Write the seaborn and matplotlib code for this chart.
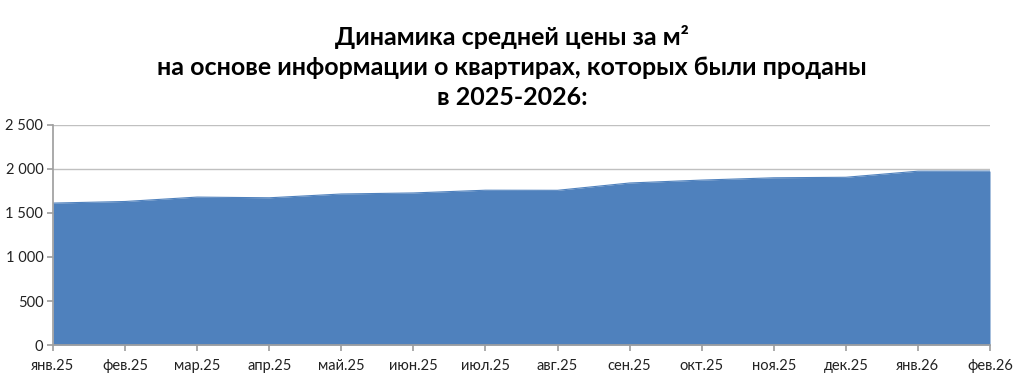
import matplotlib
matplotlib.use("Agg")
import matplotlib.pyplot as plt
import seaborn as sns
import numpy as np
import pandas as pd

months = ["янв.25", "фев.25", "мар.25", "апр.25", "май.25", "июн.25", "июл.25",
          "авг.25", "сен.25", "окт.25", "ноя.25", "дек.25", "янв.26", "фев.26"]
prices = [1612, 1630, 1680, 1672, 1715, 1727, 1758, 1757, 1840, 1873, 1899, 1905, 1974, 1975]
y_ticks = [0, 500, 1000, 1500, 2000, 2500]
y_tick_labels = ["0", "500", "1 000", "1 500", "2 000", "2 500"]
title = "Динамика средней цены за м²\nна основе информации о квартирах, которых были проданы\nв 2025-2026:"

sns.set_theme(style="white")
plt.rcParams["font.family"] = ["Lato", "DejaVu Sans"]

df = pd.DataFrame({"idx": np.arange(len(months)), "price": prices})

fig = plt.figure(figsize=(10.24, 3.89), dpi=100)
ax = fig.add_axes([0.0518, 0.113, 0.915, 0.566])

color = "#4F81BD"
sns.lineplot(data=df, x="idx", y="price", ax=ax, color=color, linewidth=0.8)
ax.fill_between(df["idx"], 0, df["price"], color=color, linewidth=0, zorder=2)

ax.set_xlim(0, len(months) - 1)
ax.set_ylim(0, 2500)
ax.set_yticks(y_ticks)
ax.set_yticklabels(y_tick_labels)
ax.set_xticks(df["idx"])
ax.set_xticklabels(months)
ax.set_xlabel("")
ax.set_ylabel("")

ax.grid(axis="y", color="#c0c0c0", linewidth=1.0, zorder=0)
ax.set_axisbelow(True)
for s in ["top", "right"]:
    ax.spines[s].set_visible(False)
ax.spines["left"].set_color("#a0a0a0")
ax.spines["bottom"].set_color("#a0a0a0")
ax.tick_params(axis="y", length=4, color="#a0a0a0", labelsize=10.5, pad=3, labelcolor="#222222", left=True)
ax.tick_params(axis="x", length=4, color="#a0a0a0", labelsize=10.5, pad=6, labelcolor="#222222", bottom=True, direction="out")

fig.text(0.5, 0.935, title, ha="center", va="top", fontsize=18, fontweight="bold",
         linespacing=1.36, color="#000000")

fig.savefig("out.png", dpi=100)
